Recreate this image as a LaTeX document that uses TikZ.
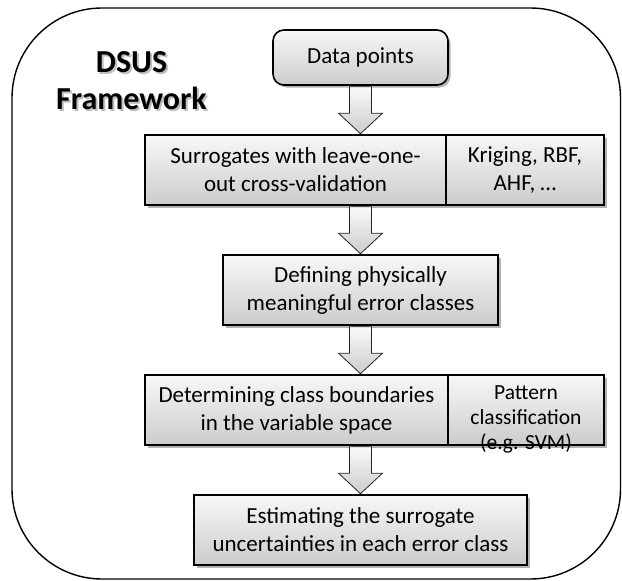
\documentclass[tikz,border=0pt]{standalone}
\usepackage{fontspec}
\setmainfont{Carlito}
\usetikzlibrary{shadows,calc}

% block arrow: x taken from the first point, tip on the y of the second point
\newcommand\flowarrow[2]{%
  \shade[arrowbody] let \p1=#1, \p2=#2 in
    (\x1-11pt,\y1-1pt) -- (\x1+11pt,\y1-1pt) -- (\x1+11pt,\y2+21pt)
    -- (\x1+22pt,\y2+21pt) -- (\x1,\y2+0.5pt) -- (\x1-22pt,\y2+21pt)
    -- (\x1-11pt,\y2+21pt) -- cycle;}

\begin{document}
\begin{tikzpicture}[x=1pt,y=-1pt,
  boxfont/.style={font=\fontsize{23}{28}\selectfont},
  smallfont/.style={font=\fontsize{21.5}{25}\selectfont},
  stepbox/.style={draw=black, line width=1.6pt, top color=gray!6, bottom color=gray!40,
    drop shadow={shadow xshift=2.5pt, shadow yshift=-2.5pt, opacity=0.3, fill=black},
    inner sep=0pt, align=center, boxfont},
  arrowbody/.style={draw=black!85, line width=0.8pt, top color=gray!4, bottom color=gray!40},
  frame/.style={draw=black, line width=1.4pt, rounded corners=90pt},
  titlefont/.style={font=\fontsize{32}{37}\selectfont\bfseries, align=center}
]
\useasboundingbox (0,0) rectangle (622,581);

% outer framework boundary
\draw[frame] (12,8) rectangle (620.5,579);

% title with soft shadow
\node[titlefont, text=black, opacity=0.25] (titleshade) at (133.5,83) {DSUS\\Framework};
\node[titlefont] (title) at (131.5,81) {DSUS\\Framework};

% process steps
\node[stepbox, rounded corners=11pt, minimum width=175pt, minimum height=55pt]
  (datapts) at (360.5,57.5) {Data points};
\node[stepbox, minimum width=301pt, minimum height=70pt]
  (surr) at (295.5,170) {Surrogates with leave-one-\\out cross-validation};
\node[stepbox, minimum width=158pt, minimum height=70pt]
  (krig) at (525,170) {Kriging, RBF,\\AHF, \ldots};
\node[stepbox, minimum width=275pt, minimum height=70pt]
  (defn) at (360.5,290) {Defining physically\\meaningful error classes};
\node[stepbox, minimum width=303pt, minimum height=70pt]
  (determ) at (296.5,410) {Determining class boundaries\\in the variable space};
\node[stepbox, minimum width=156pt, minimum height=70pt]
  (patt) at (526,410) {};
\node[smallfont, align=center, inner sep=0pt] (patttext) at ($(patt.center)+(0,9)$)
  {Pattern\\classification\\(e.g. SVM)};
\node[stepbox, minimum width=333pt, minimum height=70pt]
  (estim) at (360.5,530) {Estimating the surrogate\\uncertainties in each error class};

% flow between steps
\flowarrow{(datapts.south)}{(surr.north -| datapts.south)}
\flowarrow{(surr.south -| defn.north)}{(defn.north)}
\flowarrow{(defn.south)}{(determ.north -| defn.south)}
\flowarrow{(determ.south -| estim.north)}{(estim.north)}
\end{tikzpicture}
\end{document}
